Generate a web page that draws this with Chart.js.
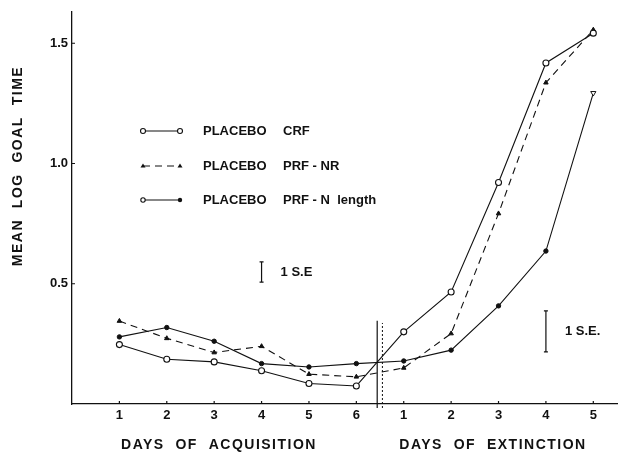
<!DOCTYPE html>
<html>
<head>
<meta charset="utf-8">
<title>Mean log goal time</title>
<script src="https://cdn.jsdelivr.net/npm/chart.js@4.4.1/dist/chart.umd.min.js"></script>
<style>
  html, body { margin: 0; padding: 0; background: #fff; }
  canvas { display: block; }
</style>
</head>
<body>
<canvas id="goalChart" width="625" height="454"></canvas>
<script>
// days 1-6 of acquisition, then days 1-5 of extinction
const dayPositions = [1, 2, 3, 4, 5, 6, 7, 8, 9, 10, 11];
const dayLabels = ["1", "2", "3", "4", "5", "6", "1", "2", "3", "4", "5"];

const crfValues = [0.247, 0.186, 0.175, 0.138, 0.085, 0.075, 0.300, 0.466, 0.921, 1.418, 1.542];
const prfNrValues = [0.345, 0.273, 0.214, 0.240, 0.124, 0.113, 0.150, 0.293, 0.792, 1.336, 1.556];
const prfNLengthValues = [0.279, 0.318, 0.261, 0.168, 0.154, 0.168, 0.179, 0.224, 0.408, 0.636, 1.293];

const seriesNames = ["PLACEBO", "PLACEBO", "PLACEBO"];
const seriesTags = ["CRF", "PRF - NR", "PRF - N  length"];

const yTicks = [0.5, 1.0, 1.5];

// standard error bars
const seDays = [4.0, 10.0];
const seLow = [0.507, 0.217];
const seHigh = [0.591, 0.387];
const seLabels = ["1 S.E", "1 S.E."];

// phase divider (solid and dotted line)
const dividerSolid = 6.44;
const dividerDotted = 6.55;
const dividerTop = [0.346, 0.337];

const ink = "#111";
const labelFont = "bold 13px 'Liberation Sans', Arial, sans-serif";

function points(values) {
  return values.map((v, i) => ({ x: dayPositions[i], y: v }));
}

const lastIndex = dayPositions.length - 1;

const overlay = {
  id: "overlay",
  afterDraw(chart) {
    const ctx = chart.ctx;
    const xs = chart.scales.x;
    const ys = chart.scales.y;
    const area = chart.chartArea;

    ctx.save();
    ctx.strokeStyle = ink;
    ctx.fillStyle = ink;

    // inward tick marks
    ctx.lineWidth = 1.2;
    ctx.beginPath();
    dayPositions.forEach(d => {
      const px = xs.getPixelForValue(d);
      ctx.moveTo(px, area.bottom);
      ctx.lineTo(px, area.bottom - 3);
    });
    yTicks.forEach(t => {
      const py = ys.getPixelForValue(t);
      ctx.moveTo(area.left, py);
      ctx.lineTo(area.left + 3, py);
    });
    ctx.stroke();

    // divider between acquisition and extinction
    ctx.lineWidth = 1.2;
    ctx.beginPath();
    ctx.moveTo(xs.getPixelForValue(dividerSolid), area.bottom + 4);
    ctx.lineTo(xs.getPixelForValue(dividerSolid), ys.getPixelForValue(dividerTop[0]));
    ctx.stroke();
    ctx.lineWidth = 1;
    ctx.setLineDash([2, 2]);
    ctx.beginPath();
    ctx.moveTo(xs.getPixelForValue(dividerDotted), area.bottom + 4);
    ctx.lineTo(xs.getPixelForValue(dividerDotted), ys.getPixelForValue(dividerTop[1]));
    ctx.stroke();
    ctx.setLineDash([]);

    // S.E. bars
    ctx.font = labelFont;
    ctx.textBaseline = "middle";
    ctx.textAlign = "left";
    seDays.forEach((d, i) => {
      const px = xs.getPixelForValue(d);
      const top = ys.getPixelForValue(seHigh[i]);
      const bot = ys.getPixelForValue(seLow[i]);
      ctx.lineWidth = 1.2;
      ctx.beginPath();
      ctx.moveTo(px, top);
      ctx.lineTo(px, bot);
      ctx.moveTo(px - 2, top);
      ctx.lineTo(px + 2, top);
      ctx.moveTo(px - 2, bot);
      ctx.lineTo(px + 2, bot);
      ctx.stroke();
      ctx.fillText(seLabels[i], px + 19, (top + bot) / 2);
    });

    // legend
    const rowY = [131, 166, 200];
    chart.data.datasets.forEach((ds, i) => {
      const y = rowY[i];
      ctx.lineWidth = 1.1;
      ctx.setLineDash(ds.borderDash || []);
      ctx.beginPath();
      ctx.moveTo(143, y);
      ctx.lineTo(180, y);
      ctx.stroke();
      ctx.setLineDash([]);
      if (i === 0) {
        [143, 180].forEach(x => {
          ctx.beginPath();
          ctx.arc(x, y, 2.5, 0, Math.PI * 2);
          ctx.fillStyle = "#fff";
          ctx.fill();
          ctx.stroke();
        });
      } else if (i === 1) {
        ctx.fillStyle = ink;
        [143, 180].forEach(x => {
          ctx.beginPath();
          ctx.moveTo(x, y - 2.5);
          ctx.lineTo(x + 2.5, y + 1.5);
          ctx.lineTo(x - 2.5, y + 1.5);
          ctx.closePath();
          ctx.fill();
        });
      } else {
        ctx.beginPath();
        ctx.arc(143, y, 2.2, 0, Math.PI * 2);
        ctx.fillStyle = "#fff";
        ctx.fill();
        ctx.stroke();
        ctx.beginPath();
        ctx.arc(180, y, 2.2, 0, Math.PI * 2);
        ctx.fillStyle = ink;
        ctx.fill();
      }
      ctx.fillStyle = ink;
      ctx.font = labelFont;
      ctx.fillText(seriesNames[i], 203, y);
      ctx.fillText(seriesTags[i], 283, y);
    });

    // axis titles
    ctx.font = "bold 14px 'Liberation Sans', Arial, sans-serif";
    ctx.letterSpacing = "1.5px";
    ctx.textAlign = "center";
    ctx.fillText("DAYS  OF  ACQUISITION", 219, 445);
    ctx.fillText("DAYS  OF  EXTINCTION", 493, 445);

    ctx.translate(18, 166);
    ctx.rotate(-Math.PI / 2);
    ctx.fillText("MEAN  LOG  GOAL  TIME", 0, 0);
    ctx.restore();
  }
};

const goalCtx = document.getElementById("goalChart").getContext("2d");

const goalChart = new Chart(goalCtx, {
  type: "line",

  data: {
    datasets: [
      {
        label: "PLACEBO CRF",
        data: points(crfValues),
        borderColor: ink,
        borderWidth: 1.1,
        pointStyle: "circle",
        pointRadius: 3,
        pointBackgroundColor: "#fff",
        pointBorderColor: ink,
        pointBorderWidth: 1.1
      },
      {
        label: "PLACEBO PRF - NR",
        data: points(prfNrValues),
        borderColor: ink,
        borderWidth: 1.1,
        borderDash: [7, 5],
        pointStyle: "triangle",
        pointRadius: 2.6,
        pointBackgroundColor: ink,
        pointBorderColor: ink,
        pointBorderWidth: 1
      },
      {
        label: "PLACEBO PRF - N length",
        data: points(prfNLengthValues),
        borderColor: ink,
        borderWidth: 1.1,
        pointStyle: c => c.dataIndex === lastIndex ? "triangle" : "circle",
        pointRotation: c => c.dataIndex === lastIndex ? 180 : 0,
        pointRadius: c => c.dataIndex === lastIndex ? 3 : 2.2,
        pointBackgroundColor: c => c.dataIndex === lastIndex ? "#fff" : ink,
        pointBorderColor: ink,
        pointBorderWidth: 1
      }
    ]
  },

  options: {
    responsive: false,
    animation: false,
    devicePixelRatio: 1,
    layout: {
      padding: { top: 12, right: 8, left: 0, bottom: 0 }
    },

    plugins: {
      legend: { display: false },
      tooltip: { enabled: false }
    },

    scales: {
      x: {
        type: "linear",
        min: 0,
        max: 11.5,
        afterBuildTicks: scale => {
          scale.ticks = dayPositions.map(v => ({ value: v }));
        },
        afterFit: scale => {
          scale.height = 50;
        },
        ticks: {
          autoSkip: false,
          maxRotation: 0,
          padding: 4,
          color: ink,
          font: { family: "'Liberation Sans', Arial, sans-serif", size: 13, weight: "bold" },
          callback: (value, index) => dayLabels[index]
        },
        grid: {
          display: true,
          drawOnChartArea: false,
          drawTicks: false
        },
        border: {
          color: ink,
          width: 1.3
        }
      },

      y: {
        min: 0,
        max: 1.63,
        afterBuildTicks: scale => {
          scale.ticks = yTicks.map(v => ({ value: v }));
        },
        afterFit: scale => {
          scale.width = 72;
        },
        ticks: {
          padding: 4,
          color: ink,
          font: { family: "'Liberation Sans', Arial, sans-serif", size: 13, weight: "bold" },
          callback: value => value.toFixed(1)
        },
        grid: {
          display: true,
          drawOnChartArea: false,
          drawTicks: false
        },
        border: {
          color: ink,
          width: 1.3
        }
      }
    }
  },

  plugins: [overlay]
});
</script>
</body>
</html>
